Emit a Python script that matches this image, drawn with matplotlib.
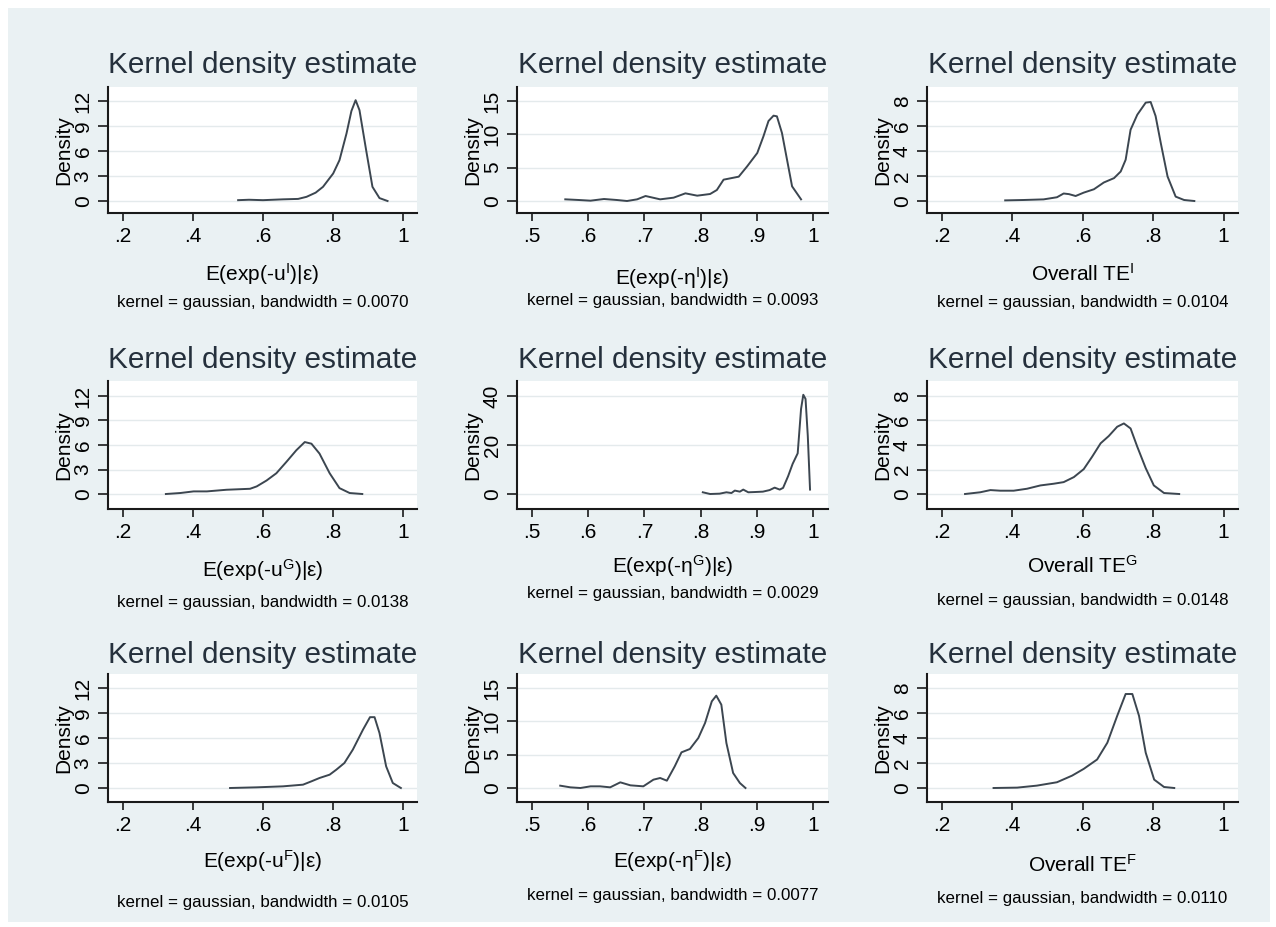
import matplotlib
matplotlib.use("Agg")
import matplotlib.pyplot as plt
from matplotlib.patches import Rectangle

plt.rcParams['font.family'] = ['Liberation Sans', 'DejaVu Sans']
plt.rcParams['mathtext.fontset'] = 'custom'
plt.rcParams['mathtext.rm'] = 'Liberation Sans'
plt.rcParams['mathtext.it'] = 'Liberation Sans:italic'
plt.rcParams['mathtext.bf'] = 'Liberation Sans:bold'

# ---------------- data ----------------
u_I_x = [0.529, 0.560, 0.600, 0.657, 0.700, 0.724, 0.750, 0.771, 0.800, 0.818, 0.838,
         0.852, 0.864, 0.875, 0.894, 0.912, 0.932, 0.955]
u_I_y = [0.1, 0.15, 0.1, 0.2, 0.25, 0.5, 1.0, 1.7, 3.3, 4.9, 8.1, 10.8, 12.1, 10.9, 6.1,
         1.7, 0.35, 0.0]

eta_I_x = [0.559, 0.583, 0.604, 0.628, 0.651, 0.669, 0.687, 0.702, 0.728, 0.752, 0.773,
           0.794, 0.817, 0.829, 0.841, 0.853, 0.868, 0.883, 0.901, 0.912, 0.921, 0.930,
           0.936, 0.945, 0.954, 0.963, 0.979]
eta_I_y = [0.25, 0.15, 0.05, 0.3, 0.15, 0.0, 0.25, 0.75, 0.25, 0.5, 1.15, 0.8, 1.05, 1.65,
           3.2, 3.4, 3.65, 5.2, 7.2, 9.7, 12.0, 12.8, 12.7, 10.2, 6.2, 2.2, 0.25]

te_I_x = [0.380, 0.432, 0.489, 0.527, 0.546, 0.561, 0.580, 0.603, 0.632, 0.660, 0.689,
          0.708, 0.722, 0.736, 0.755, 0.779, 0.793, 0.807, 0.822, 0.841, 0.864, 0.888, 0.917]
te_I_y = [0.05, 0.08, 0.13, 0.3, 0.6, 0.55, 0.4, 0.67, 0.94, 1.48, 1.83, 2.36, 3.3, 5.7,
          6.9, 7.87, 7.92, 6.8, 4.6, 1.96, 0.35, 0.08, 0.0]

u_G_x = [0.323, 0.364, 0.402, 0.440, 0.496, 0.563, 0.582, 0.610, 0.638, 0.667, 0.695,
         0.719, 0.738, 0.761, 0.790, 0.818, 0.847, 0.883]
u_G_y = [0.0, 0.12, 0.32, 0.32, 0.52, 0.64, 0.93, 1.65, 2.54, 3.95, 5.36, 6.36, 6.16,
         4.95, 2.54, 0.72, 0.12, 0.0]

eta_G_x = [0.804, 0.817, 0.834, 0.846, 0.855, 0.861, 0.870, 0.876, 0.885, 0.896, 0.911,
           0.923, 0.932, 0.941, 0.947, 0.956, 0.964, 0.973, 0.979, 0.983, 0.987, 0.991, 0.995]
eta_G_y = [0.7, 0.0, 0.14, 0.7, 0.4, 1.4, 0.96, 1.8, 0.7, 0.8, 0.96, 1.6, 2.6, 1.8, 2.5,
           7.3, 12.3, 16.6, 34.7, 40.5, 38.8, 23.7, 1.8]

te_G_x = [0.266, 0.309, 0.338, 0.366, 0.404, 0.442, 0.480, 0.518, 0.546, 0.575, 0.603,
          0.627, 0.651, 0.674, 0.698, 0.717, 0.736, 0.755, 0.779, 0.802, 0.831, 0.874]
te_G_y = [0.0, 0.14, 0.32, 0.27, 0.27, 0.43, 0.7, 0.84, 0.97, 1.38, 2.03, 3.05, 4.14,
          4.73, 5.49, 5.76, 5.35, 3.86, 2.11, 0.7, 0.08, 0.0]

u_F_x = [0.506, 0.582, 0.657, 0.714, 0.738, 0.761, 0.790, 0.809, 0.832, 0.856, 0.885,
         0.905, 0.918, 0.932, 0.951, 0.970, 0.993]
u_F_y = [0.0, 0.08, 0.2, 0.4, 0.8, 1.2, 1.6, 2.2, 3.0, 4.6, 7.0, 8.5, 8.5, 6.6, 2.6, 0.6, 0.0]

eta_F_x = [0.550, 0.568, 0.586, 0.604, 0.621, 0.639, 0.657, 0.675, 0.698, 0.716, 0.728,
           0.740, 0.754, 0.766, 0.781, 0.796, 0.808, 0.820, 0.828, 0.837, 0.846, 0.858,
           0.870, 0.880]
eta_F_y = [0.35, 0.1, 0.0, 0.25, 0.25, 0.1, 0.85, 0.4, 0.25, 1.25, 1.5, 1.1, 3.25, 5.35,
           5.85, 7.5, 9.75, 13.0, 13.85, 12.5, 6.75, 2.25, 0.75, 0.0]

te_F_x = [0.347, 0.414, 0.470, 0.527, 0.570, 0.603, 0.641, 0.670, 0.698, 0.722, 0.741,
          0.760, 0.779, 0.803, 0.831, 0.860]
te_F_y = [0.0, 0.03, 0.19, 0.46, 0.99, 1.53, 2.28, 3.62, 5.77, 7.52, 7.52, 5.77, 2.82,
          0.67, 0.08, 0.0]

xlabels = [r'E(exp(-u$^{\mathrm{I}}$)|ε)', r'E(exp(-η$^{\mathrm{I}}$)|ε)', r'Overall TE$^{\mathrm{I}}$',
           r'E(exp(-u$^{\mathrm{G}}$)|ε)', r'E(exp(-η$^{\mathrm{G}}$)|ε)', r'Overall TE$^{\mathrm{G}}$',
           r'E(exp(-u$^{\mathrm{F}}$)|ε)', r'E(exp(-η$^{\mathrm{F}}$)|ε)', r'Overall TE$^{\mathrm{F}}$']
bandwidths = ['0.0070', '0.0093', '0.0104', '0.0138', '0.0029', '0.0148', '0.0105', '0.0077', '0.0110']

xticks_wide = [0.2, 0.4, 0.6, 0.8, 1.0]
xticklabels_wide = ['.2', '.4', '.6', '.8', '1']
xticks_narrow = [0.5, 0.6, 0.7, 0.8, 0.9, 1.0]
xticklabels_narrow = ['.5', '.6', '.7', '.8', '.9', '1']
yticks_u = [0, 3, 6, 9, 12]
yticks_eta = [0, 5, 10, 15]
yticks_etaG = [0, 20, 40]
yticks_te = [0, 2, 4, 6, 8]

series = [(u_I_x, u_I_y), (eta_I_x, eta_I_y), (te_I_x, te_I_y),
          (u_G_x, u_G_y), (eta_G_x, eta_G_y), (te_G_x, te_G_y),
          (u_F_x, u_F_y), (eta_F_x, eta_F_y), (te_F_x, te_F_y)]
yticks_all = [yticks_u, yticks_eta, yticks_te,
              yticks_u, yticks_etaG, yticks_te,
              yticks_u, yticks_eta, yticks_te]

# ---------------- layout (pixels) ----------------
W, H = 1276, 927
BG = '#eaf1f3'
cols = [(108, 417), (517, 828), (927, 1238)]
rows = [(87, 213), (381, 509), (674, 802)]
row_pad = [(0.12, 0.14), (0.153, 0.153), (0.14, 0.14)]
title_base = [73, 368, 663]
xlab_base = [281, 285, 281, 577, 573, 573, 868, 868, 872]
note_base = [307, 305, 307, 607, 598, 605, 907, 900, 903]
xlims = [(0.158, 1.039), (0.473, 1.027), (0.158, 1.041)]

fig = plt.figure(figsize=(W / 100, H / 100), dpi=100)
fig.patch.set_facecolor('white')
fig.patches.append(Rectangle((8 / W, 1 - 922 / H), (1270 - 8) / W, (922 - 8) / H,
                             transform=fig.transFigure, facecolor=BG, edgecolor='none', zorder=-10))


def fx(px):
    return px / W


def fy(py):
    return 1 - py / H


for i in range(9):
    r, c = divmod(i, 3)
    (l, rr), (t, b) = cols[c], rows[r]
    ax = fig.add_axes([fx(l), fy(b), (rr - l) / W, (b - t) / H])
    ax.set_facecolor('white')
    xs, ys = series[i]
    ax.plot(xs, ys, color='#3c4650', lw=1.4, solid_joinstyle='round', zorder=3)
    yt = yticks_all[i]
    top = yt[-1]
    a, bb = row_pad[r]
    ax.set_ylim(-a * top, top * (1 + bb))
    ax.set_yticks(yt)
    ax.set_yticklabels([str(v) for v in yt])
    ax.set_xlim(*xlims[c])
    if c == 1:
        ax.set_xticks(xticks_narrow)
        ax.set_xticklabels(xticklabels_narrow)
    else:
        ax.set_xticks(xticks_wide)
        ax.set_xticklabels(xticklabels_wide)
    ax.grid(axis='y', color='#e4eaec', lw=1.0, zorder=0)
    ax.set_axisbelow(True)
    for s in ['top', 'right']:
        ax.spines[s].set_visible(False)
    for s in ['left', 'bottom']:
        ax.spines[s].set_linewidth(1.5)
        ax.spines[s].set_color('#1a1a1a')
    ax.tick_params(axis='y', length=7, width=1.2, pad=4, labelsize=15, labelrotation=90,
                   color='#1a1a1a')
    ax.tick_params(axis='x', length=6, width=1.2, pad=4, labelsize=15, color='#1a1a1a')
    for lab in ax.get_yticklabels():
        lab.set_va('center')
    ax.set_ylabel('Density', fontsize=15, labelpad=0)
    cx = fx((l + rr) / 2)
    fig.text(cx, fy(title_base[r]), 'Kernel density estimate', fontsize=21.4,
             color='#25303c', ha='center', va='baseline')
    fig.text(cx, fy(xlab_base[i]), xlabels[i], fontsize=15, ha='center', va='baseline')
    fig.text(cx, fy(note_base[i]), 'kernel = gaussian, bandwidth = ' + bandwidths[i],
             fontsize=12.2, ha='center', va='baseline')

fig.savefig('out.png', dpi=100, facecolor='white')
